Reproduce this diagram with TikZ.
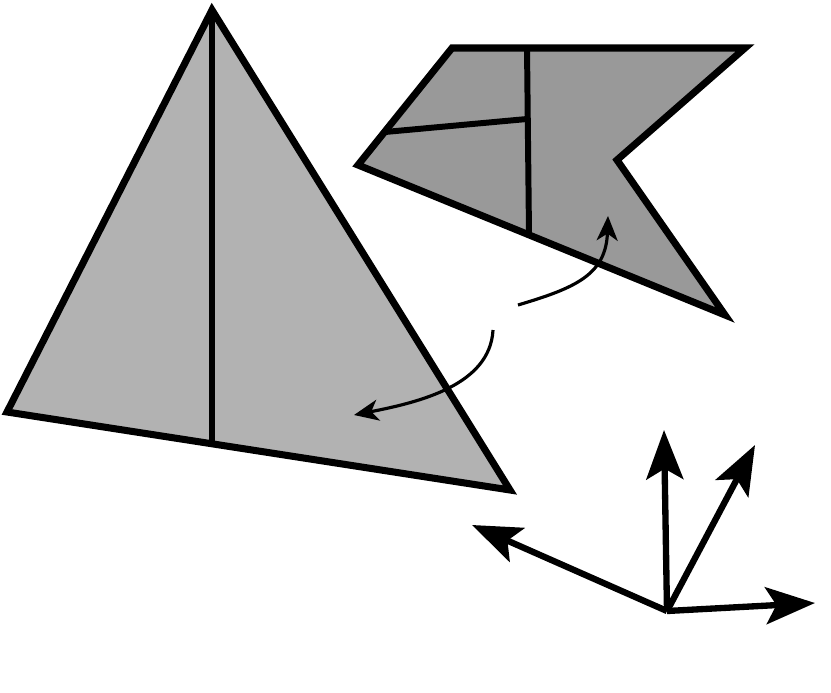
\documentclass[tikz,border=0pt]{standalone}
\usetikzlibrary{arrows.meta}

\begin{document}
\begin{tikzpicture}[x=0.1mm,y=-0.1mm,line join=miter]
\tikzset{face/.style={draw=black,line width=2pt},
  crease/.style={line width=1.7pt},
  turn/.style={line width=0.9pt,-{Stealth[length=7pt,width=6pt,inset=2pt]}},
  axis/.style={line width=1.8pt,-{Stealth[length=14pt,width=10.5pt,inset=3pt]}}}
\useasboundingbox (0,0) rectangle (831,692);
% large triangle
\coordinate (apex) at (212,10);
\coordinate (tl) at (7,412);
\coordinate (tr) at (510,490);
\coordinate (foot) at (212,444);
\filldraw[face,fill=black!30] (apex) -- (tr) -- (tl) -- cycle;
\draw[crease] (apex) -- (foot);
% folded piece
\coordinate (p1) at (452,48);
\coordinate (p2) at (745,48);
\coordinate (p3) at (617,160);
\coordinate (p4) at (725,315);
\coordinate (p5) at (358,165);
\coordinate (v1) at (527,48);
\coordinate (v2) at (529,234);
\coordinate (h1) at (385,132);
\coordinate (h2) at (527,119);
\filldraw[face,fill=black!40] (p1) -- (p2) -- (p3) -- (p4) -- (p5) -- cycle;
\draw[crease] (v1) -- (v2);
\draw[crease] (h1) -- (h2);
% turning arrows
\coordinate (a1) at (518,305);
\coordinate (b1) at (608,216);
\coordinate (a2) at (493,330);
\coordinate (b2) at (354,415);
\draw[turn] (a1) .. controls (575,288) and (606,275) .. (b1);
\draw[turn] (a2) .. controls (490,385) and (420,402) .. (b2);
% axes
\coordinate (o) at (667,611);
\coordinate (ex) at (815,603);
\coordinate (ey) at (664,430);
\coordinate (ez) at (755,445);
\coordinate (ew) at (472,525);
\draw[axis] (o) -- (ex);
\draw[axis] (o) -- (ey);
\draw[axis] (o) -- (ez);
\draw[axis] (o) -- (ew);
\end{tikzpicture}
\end{document}
